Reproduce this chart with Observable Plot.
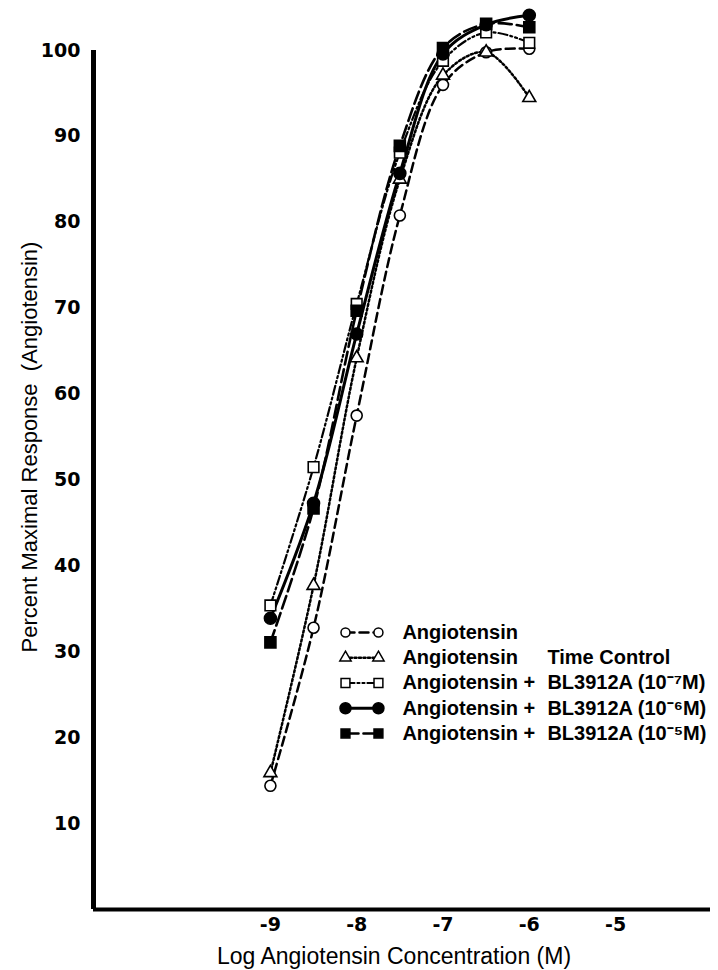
<!DOCTYPE html>
<html>
<head>
<meta charset="utf-8">
<script src="https://cdn.jsdelivr.net/npm/d3@7"></script>
<script src="https://cdn.jsdelivr.net/npm/@observablehq/plot@0.6"></script>
<style>
  html, body { margin: 0; padding: 0; background: #fff; }
  #chart svg { display: block; }
</style>
</head>
<body>
<div id="chart"></div>
<script>
// ---- data ----
const logConc = [-9, -8.5, -8, -7.5, -7, -6.5, -6];
const angiotensin = [14.4, 32.8, 57.5, 80.8, 96.0, 99.8, 100.2];
const timeControl = [15.9, 37.7, 64.2, 85.0, 97.1, 99.8, 94.5];
const bl3912a_7 = [35.4, 51.5, 70.5, 88.1, 98.8, 102.1, 100.9];
const bl3912a_6 = [33.9, 47.3, 67.0, 85.7, 99.6, 103.0, 104.1];
const bl3912a_5 = [31.1, 46.7, 69.7, 88.9, 100.3, 103.1, 102.7];

const seriesNames = [
  "Angiotensin",
  "Angiotensin Time Control",
  "Angiotensin + BL3912A (10⁻⁷M)",
  "Angiotensin + BL3912A (10⁻⁶M)",
  "Angiotensin + BL3912A (10⁻⁵M)"
];
const legendPrefix = ["Angiotensin", "Angiotensin", "Angiotensin +", "Angiotensin +", "Angiotensin +"];
const legendSuffix = ["", "Time Control", "BL3912A (10⁻⁷M)", "BL3912A (10⁻⁶M)", "BL3912A (10⁻⁵M)"];

const xTicks = [-9, -8, -7, -6, -5];
const yTicks = [10, 20, 30, 40, 50, 60, 70, 80, 90, 100];
const xLabel = "Log Angiotensin Concentration (M)";
const yLabel = "Percent Maximal Response  (Angiotensin)";

// ---- styles ----
const values = [angiotensin, timeControl, bl3912a_7, bl3912a_6, bl3912a_5];
const styles = [
  {symbol: "circle",   fill: "white", dash: "9,5",            width: 2.5, r: 5.5, lr: 4.5},
  {symbol: "triangle", fill: "white", dash: "2,2.5",          width: 2.5, r: 4.8, lr: 4.2},
  {symbol: "square",   fill: "white", dash: "9,3,2,3,2,3",    width: 2.2, r: 6.0, lr: 5.0},
  {symbol: "circle",   fill: "black", dash: null,             width: 3,   r: 6.0, lr: 5.5},
  {symbol: "square",   fill: "black", dash: "13,5",           width: 2.6, r: 6.2, lr: 5.0}
];

const rows = [];
values.forEach((vals, s) => vals.forEach((v, i) => rows.push({series: s, x: logConc[i], y: v})));

const xMin = -11.05, xMax = -3.9;

// legend layout (data units)
const legX1 = -8.13, legX2 = -7.748, legTextX = -7.47, legSuffixX = -5.79;
const legTop = 32.25, legStep = 2.94;
const legendRows = seriesNames.map((name, i) => ({
  i, name, prefix: legendPrefix[i], suffix: legendSuffix[i], y: legTop - i * legStep
}));

const marks = [
  Plot.ruleX([xMin], {y1: 0, y2: 100, strokeWidth: 5, stroke: "black"}),
  Plot.ruleY([0], {x1: xMin, x2: xMax, strokeWidth: 4, stroke: "black"})
];

styles.forEach((st, s) => {
  const data = rows.filter(d => d.series === s);
  marks.push(Plot.line(data, {
    x: "x", y: "y", curve: "catmull-rom", stroke: "black",
    strokeWidth: st.width, strokeDasharray: st.dash ?? undefined
  }));
});
styles.forEach((st, s) => {
  const data = rows.filter(d => d.series === s);
  marks.push(Plot.dot(data, {
    x: "x", y: "y", symbol: st.symbol, r: st.r,
    fill: st.fill, stroke: "black", strokeWidth: 1.6
  }));
});

// legend
legendRows.forEach(row => {
  const st = styles[row.i];
  const seg = [{x: legX1, y: row.y}, {x: legX2, y: row.y}];
  marks.push(Plot.line(seg, {x: "x", y: "y", stroke: "black", strokeWidth: st.width,
    strokeDasharray: st.dash ?? undefined}));
  marks.push(Plot.dot(seg, {x: "x", y: "y", symbol: st.symbol, r: st.lr,
    fill: st.fill, stroke: "black", strokeWidth: 1.5}));
});
marks.push(Plot.text(legendRows, {
  x: () => legTextX, y: "y", text: "prefix", textAnchor: "start", lineAnchor: "middle",
  fontSize: 20, fontWeight: "bold", fontFamily: "Liberation Sans, Arial, sans-serif", fill: "black"
}));
marks.push(Plot.text(legendRows.filter(d => d.suffix), {
  x: () => legSuffixX, y: "y", text: "suffix", textAnchor: "start", lineAnchor: "middle",
  fontSize: 20, fontWeight: "bold", fontFamily: "Liberation Sans, Arial, sans-serif", fill: "black"
}));

// axes
marks.push(Plot.axisY(yTicks, {
  tickSize: 0, tickPadding: 13, label: null,
  fontSize: 19, fontWeight: "bold", fontFamily: "DejaVu Sans, sans-serif", fill: "black"
}));
marks.push(Plot.axisX(xTicks, {
  tickSize: 0, tickPadding: 8, label: null, tickFormat: d => String(d),
  fontSize: 19, fontWeight: "bold", fontFamily: "DejaVu Sans, sans-serif", fill: "black"
}));
marks.push(Plot.text([yLabel], {
  text: d => d, frameAnchor: "left", rotate: -90, dx: -64, dy: -33,
  textAnchor: "middle", lineAnchor: "middle",
  fontSize: 22, fontFamily: "Liberation Sans, Arial, sans-serif", fill: "black"
}));
marks.push(Plot.text([xLabel], {
  text: d => d, frameAnchor: "bottom", dx: -8, dy: 47,
  textAnchor: "middle", lineAnchor: "middle",
  fontSize: 23, fontFamily: "Liberation Sans, Arial, sans-serif", fill: "black"
}));

const chart = Plot.plot({
  width: 718,
  height: 970,
  marginTop: 50,
  marginBottom: 61,
  marginLeft: 93,
  marginRight: 8,
  style: {background: "white", color: "black", overflow: "visible"},
  x: {domain: [xMin, xMax]},
  y: {domain: [0, 100]},
  marks
});
document.getElementById("chart").appendChild(chart);
</script>
</body>
</html>
